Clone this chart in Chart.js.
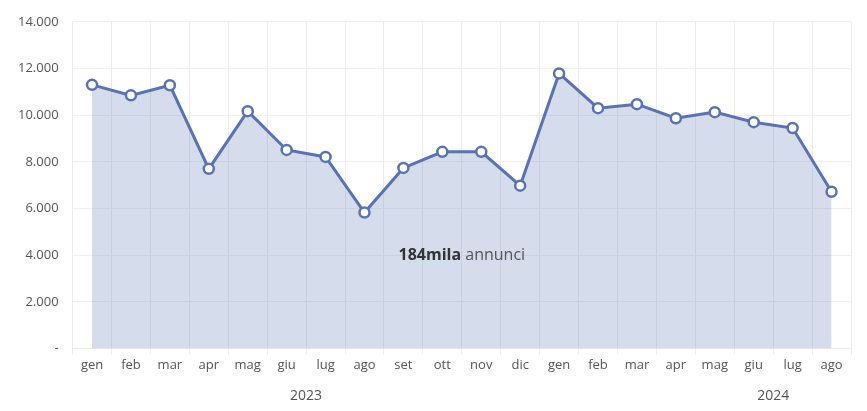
<!DOCTYPE html>
<html>
<head>
<meta charset="utf-8">
<script src="https://cdn.jsdelivr.net/npm/chart.js@4"></script>
<style>
  html, body { margin: 0; padding: 0; background: #fff; }
  #wrap { width: 867px; height: 411px; }
</style>
</head>
<body>
<div id="wrap"><canvas id="grafico"></canvas></div>
<script>
// Dati
const mesi = ["gen", "feb", "mar", "apr", "mag", "giu", "lug", "ago", "set", "ott", "nov", "dic",
              "gen", "feb", "mar", "apr", "mag", "giu", "lug", "ago"];
const annunci = [11300, 10850, 11280, 7700, 10170, 8510, 8210, 5830, 7740, 8430, 8430, 6980,
                 11790, 10300, 10470, 9870, 10130, 9700, 9450, 6720];
const anni = ["2023", "2024"];
const posizioniAnni = [5.5, 17.5];
const totaleBold = "184mila";
const totaleTesto = " annunci";

const coloreLinea = "#5872b4";
const font = "'Open Sans', 'Noto Sans', sans-serif";

// Testo centrale
const testoCentrale = {
    id: 'testoCentrale',
    afterDatasetsDraw(chart) {
        const ctx = chart.ctx;
        const x = chart.scales.x.getPixelForValue(9.5);
        const y = chart.scales.y.getPixelForValue(4000);
        ctx.save();
        ctx.textBaseline = 'middle';
        ctx.font = `bold 16px ${font}`;
        const w1 = ctx.measureText(totaleBold).width;
        ctx.font = `16px ${font}`;
        const w2 = ctx.measureText(totaleTesto).width;
        let start = x - (w1 + w2) / 2;
        ctx.fillStyle = '#333';
        ctx.font = `bold 16px ${font}`;
        ctx.fillText(totaleBold, start, y);
        ctx.fillStyle = '#555';
        ctx.font = `16px ${font}`;
        ctx.fillText(totaleTesto, start + w1, y);
        ctx.restore();
    }
};

new Chart(document.getElementById('grafico'), {
    type: 'line',
    data: {
        labels: mesi,
        datasets: [{
            data: annunci,
            borderColor: coloreLinea,
            backgroundColor: 'rgba(88,114,180,0.25)',
            borderWidth: 3,
            fill: 'origin',
            tension: 0,
            pointRadius: 5,
            pointBorderWidth: 2.5,
            pointBackgroundColor: '#fff',
            pointBorderColor: coloreLinea
        }]
    },
    options: {
        responsive: true,
        maintainAspectRatio: false,
        animation: false,
        layout: { padding: { top: 8, right: 16, left: 4, bottom: 4 } },
        plugins: { legend: { display: false }, tooltip: { enabled: false } },
        scales: {
            x: {
                offset: true,
                grid: { offset: true, color: '#ececec', drawTicks: true, tickLength: 6 },
                border: { color: '#ececec' },
                ticks: { color: '#555', font: { family: font, size: 13 }, maxRotation: 0, autoSkip: false }
            },
            x2: {
                type: 'linear',
                position: 'bottom',
                min: -0.5,
                max: 19.5,
                grid: { display: false },
                border: { display: false },
                afterBuildTicks(axis) {
                    axis.ticks = posizioniAnni.map(v => ({ value: v }));
                },
                ticks: {
                    color: '#555',
                    font: { family: font, size: 14 },
                    callback: (v) => anni[posizioniAnni.indexOf(v)]
                }
            },
            y: {
                min: 0,
                max: 14000,
                grid: { color: '#f0f0f0', drawTicks: false },
                border: { display: false },
                ticks: {
                    stepSize: 2000,
                    padding: 14,
                    color: '#555',
                    font: { family: font, size: 13 },
                    callback: (v) => v === 0 ? '-' : v.toLocaleString('it-IT')
                }
            }
        }
    },
    plugins: [testoCentrale]
});
</script>
</body>
</html>
